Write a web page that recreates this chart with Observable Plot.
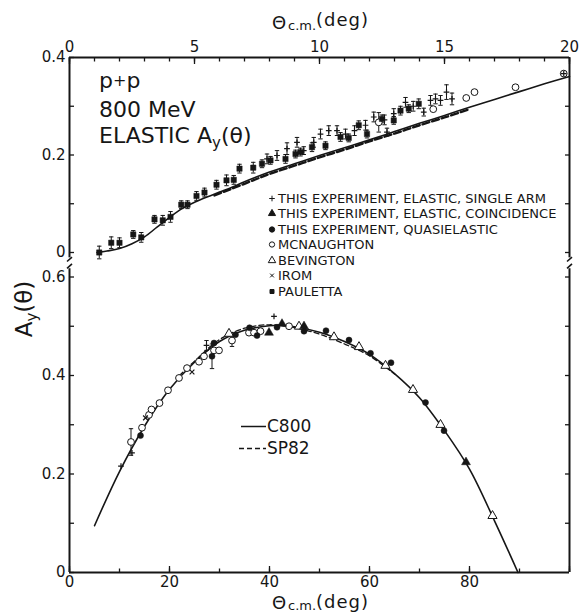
<!DOCTYPE html>
<html>
<head>
<meta charset="utf-8">
<script src="https://cdn.jsdelivr.net/npm/d3@7"></script>
<script src="https://cdn.jsdelivr.net/npm/@observablehq/plot@0.6"></script>
<style>
html,body{margin:0;padding:0;background:#fff;}
#wrap{position:relative;width:581px;height:613px;overflow:hidden;font-family:"DejaVu Sans",sans-serif;color:#161616;}
.abs{position:absolute;white-space:nowrap;line-height:1;}
#wrap svg{display:block;}
</style>
</head>
<body>
<div id="wrap">
  <div id="topPanel" class="abs" style="left:0;top:0;"></div>
  <div id="botPanel" class="abs" style="left:0;top:263px;"></div>

  <!-- axis titles -->
  <div class="abs" style="left:272px;top:14px;font-size:18px;">Θ</div>
  <div class="abs" style="left:288px;top:19px;font-size:13px;">c.m.</div>
  <div class="abs" style="left:316px;top:11px;font-size:18px;letter-spacing:1px;">(deg)</div>

  <div class="abs" style="left:272px;top:594px;font-size:18px;">Θ</div>
  <div class="abs" style="left:288px;top:599px;font-size:13px;">c.m.</div>
  <div class="abs" style="left:316px;top:593px;font-size:18px;letter-spacing:1px;">(deg)</div>

  <div class="abs" style="left:24px;top:309px;font-size:23px;transform:translate(-50%,-50%) rotate(-90deg);">A<span style="position:relative;top:5px;font-size:15px;">y</span>(θ)</div>

  <!-- annotation -->
  <div class="abs" style="left:99px;top:70px;font-size:22px;">p<span style="font-size:16px;position:relative;top:-2px;">+</span>p</div>
  <div class="abs" style="left:99px;top:99px;font-size:22px;">800 MeV</div>
  <div class="abs" style="left:99px;top:125px;font-size:22px;">ELASTIC A<span style="position:relative;top:5px;font-size:15px;">y</span>(θ)</div>
</div>
<script>
// ---------------- DATA ----------------
// Top panel: θc.m. 0–20 deg
const topCurveTheta = [1.1,1.5,2,2.5,3,3.5,4,4.5,5,5.5,6,6.5,7,8,9,10,11,12,13,14,15,16,17,18,19,20];
const topC800 = [0,0.003,0.008,0.018,0.032,0.052,0.072,0.09,0.103,0.114,0.124,0.134,0.145,0.165,0.182,0.199,0.215,0.231,0.248,0.265,0.281,0.298,0.314,0.330,0.346,0.361];
const topSP82Theta = [5.8,7,8,9,10,11,12,13,14,15,16];
const topSP82 = [0.117,0.141,0.161,0.178,0.195,0.211,0.228,0.244,0.261,0.277,0.294];

const topPaulettaTheta = [1.19,1.67,2.0,2.55,2.87,3.4,3.73,4.04,4.47,4.72,5.08,5.4,5.88,6.28,6.57,6.8,7.35,7.7,8.04,8.64,9.04,9.24,9.7,10.24,10.84,11.17,11.57,11.9,12.5,12.97,13.24,13.57,13.97];
const topPaulettaAy = [0.0,0.02,0.02,0.037,0.031,0.068,0.066,0.073,0.098,0.098,0.116,0.123,0.139,0.148,0.149,0.172,0.174,0.182,0.189,0.192,0.202,0.206,0.216,0.219,0.237,0.235,0.261,0.243,0.274,0.271,0.291,0.295,0.305];
const topPaulettaErr = [0.013,0.012,0.01,0.008,0.01,0.008,0.01,0.011,0.008,0.008,0.009,0.009,0.009,0.011,0.009,0.009,0.011,0.008,0.008,0.009,0.008,0.008,0.009,0.008,0.009,0.008,0.009,0.008,0.008,0.008,0.009,0.008,0.01];

const topSingleTheta = [7.9,8.3,8.7,9.1,9.37,9.77,10.04,10.37,10.7,11.04,11.4,11.84,12.17,12.6,12.7,12.97,13.44,13.75,14.17,14.44,14.64,14.84,15.08,15.3,19.77];
const topSingleAy = [0.192,0.199,0.213,0.226,0.209,0.226,0.243,0.25,0.25,0.243,0.25,0.261,0.278,0.272,0.247,0.285,0.308,0.3,0.288,0.312,0.315,0.312,0.329,0.315,0.367];
const topSingleErr = [0.01,0.01,0.012,0.01,0.008,0.01,0.01,0.01,0.01,0.01,0.01,0.01,0.01,0.01,0.008,0.01,0.01,0.01,0.008,0.01,0.01,0.01,0.015,0.012,0];

const topMcnTheta = [12.37,14.55,15.87,16.2,17.84,19.77];
const topMcnAy = [0.267,0.294,0.317,0.329,0.339,0.367];
const topMcnErr = [0.02,0,0,0,0,0];

// Bottom panel: θc.m. 0–100 deg
const botCurveTheta = [5,10,15,20,25,30,35,40,42,45,50,55,60,65,70,75,80,85,89.7];
const botC800 = [0.095,0.205,0.297,0.372,0.427,0.469,0.492,0.501,0.502,0.499,0.488,0.469,0.443,0.404,0.355,0.288,0.21,0.105,0];
const botSP82Theta = [22,25,30,35,40,45,50,55,60,65];
const botSP82 = [0.400,0.429,0.473,0.496,0.503,0.497,0.484,0.464,0.440,0.403];

const botSingleTheta = [10.3,12.5,27.4,40.9];
const botSingleAy = [0.216,0.243,0.461,0.52];
const botSingleErr = [0,0,0.01,0];

const botCoincTheta = [39.9,42.5,46.9,79.3];
const botCoincAy = [0.487,0.505,0.5,0.224];

const botQuasiTheta = [14.2,28.5,28.9,33.2,36,37.5,41.5,46.9,51.3,55.9,60.2,64.3,71.2,74.9];
const botQuasiAy = [0.278,0.439,0.466,0.483,0.497,0.481,0.498,0.49,0.491,0.472,0.445,0.426,0.345,0.288];
const botQuasiErr = [0,0.025,0,0,0,0,0,0,0,0,0,0,0,0];

const botMcnTheta = [12.3,14.5,15.9,16.4,18.0,19.7,21.9,23.5,25.9,26.9,28.9,29.9,32.5,35.9,36.9,38.2,43.9];
const botMcnAy = [0.265,0.294,0.32,0.331,0.344,0.37,0.395,0.415,0.428,0.439,0.451,0.451,0.471,0.487,0.487,0.49,0.5];
const botMcnErr = [0.027,0,0,0,0,0,0,0,0,0,0,0,0.012,0,0,0,0];

const botBevTheta = [31.9,45.9,52.9,57.9,63.2,68.7,74.2,84.6];
const botBevAy = [0.485,0.4995,0.478,0.458,0.42,0.371,0.3,0.115];

const botIromTheta = [15.2,24.5];
const botIromAy = [0.314,0.407];

// ticks
const topXMinor = [0,1,2,3,4,5,6,7,8,9,10,11,12,13,14,15,16,17,18,19,20];
const topXMajor = [0,5,10,15,20];
const topYTicks = [0,0.1,0.2,0.3,0.4];
const topYLabels = [0,0.2,0.4];
const topYRight = [0,0.1,0.2,0.3];
const botXMinor = [0,10,20,30,40,50,60,70,80,90,100];
const botXMajor = [0,20,40,60,80,100];
const botXLabels = [0,20,40,60,80];
const botYTicks = [0,0.1,0.2,0.3,0.4,0.5,0.6];
const botYLabels = [0,0.2,0.4,0.6];
const botYRight = [0.1,0.2,0.3,0.4,0.5,0.6];

const legendLabels = ["THIS EXPERIMENT, ELASTIC, SINGLE ARM","THIS EXPERIMENT, ELASTIC, COINCIDENCE","THIS EXPERIMENT, QUASIELASTIC","MCNAUGHTON","BEVINGTON","IROM","PAULETTA"];
const legendKinds = ["plus","triFill","dotFill","dotOpen","triOpen","times","square"];
const curveLabels = ["C800","SP82"];

// ---------------- HELPERS ----------------
const ink = "#161616";
const zip = (t, a, e) => t.map((x, i) => ({t: x, a: a[i], e: e ? e[i] : 0}));
const hline = {draw(ctx, size) { const r = Math.sqrt(size / Math.PI); ctx.moveTo(-r, 0); ctx.lineTo(r, 0); }};
const fmtY = d => d === 0 ? "0" : d.toFixed(1);

function errorBars(data) {
  const withErr = data.filter(d => d.e > 0);
  const caps = withErr.flatMap(d => [{t: d.t, a: d.a - d.e}, {t: d.t, a: d.a + d.e}]);
  return [
    Plot.ruleX(withErr, {x: "t", y1: d => d.a - d.e, y2: d => d.a + d.e, stroke: ink, strokeWidth: 1}),
    Plot.dot(caps, {x: "t", y: "a", symbol: hline, r: 2.2, fill: "none", stroke: ink, strokeWidth: 1})
  ];
}
const styles = {
  plus:    {symbol: "plus", r: 2, fill: "none", stroke: ink, strokeWidth: 1.2},
  triFill: {symbol: "triangle", r: 3.3, fill: ink, stroke: ink, strokeWidth: 0.5},
  dotFill: {symbol: "circle", r: 3, fill: ink, stroke: ink, strokeWidth: 0.5},
  dotOpen: {symbol: "circle", r: 3.4, fill: "white", stroke: ink, strokeWidth: 1},
  triOpen: {symbol: "triangle", r: 3.4, fill: "white", stroke: ink, strokeWidth: 1},
  times:   {symbol: "times", r: 2.3, fill: "none", stroke: ink, strokeWidth: 1.2},
  square:  {symbol: "square", r: 3, fill: ink, stroke: ink, strokeWidth: 0.5}
};
const pts = (data, kind) => Plot.dot(data, {x: "t", y: "a", ...styles[kind]});

function axesFor(o) {
  const common = {label: null, strokeWidth: 1.3, stroke: ink};
  const text = {label: null, stroke: "none", fill: ink, fontSize: 15};
  const top = o.xAnchor === "top";
  return [
    Plot.axisX(o.xMinor, {anchor: o.xAnchor, tickSize: 3.5, dy: top ? 3.5 : -3.5, fill: "none", ...common}),
    Plot.axisX(o.xMajor, {anchor: o.xAnchor, tickSize: 6, dy: top ? 6 : -6, fill: "none", ...common}),
    Plot.axisX(o.xLabels, {anchor: o.xAnchor, tickSize: 0, tickPadding: top ? 6 : 4, tickFormat: d => String(d), ...text}),
    Plot.axisY(o.yTicks, {anchor: "left", tickSize: 5, dx: 5, fill: "none", ...common}),
    Plot.axisY(o.yLabels, {anchor: "left", tickSize: 0, tickPadding: 4, tickFormat: fmtY, ...text}),
    Plot.axisY(o.yRight, {anchor: "right", tickSize: 5, dx: -5, fill: "none", ...common})
  ];
}

// ---------------- TOP PANEL ----------------
const topPauletta = zip(topPaulettaTheta, topPaulettaAy, topPaulettaErr);
const topSingle = zip(topSingleTheta, topSingleAy, topSingleErr);
const topMcn = zip(topMcnTheta, topMcnAy, topMcnErr);
const topFrameBreak = -0.011;

const topPlot = Plot.plot({
  width: 581, height: 263,
  marginLeft: 69, marginRight: 12, marginTop: 57, marginBottom: 1.25,
  x: {domain: [0, 20], axis: null},
  y: {domain: [-0.02, 0.4], axis: null},
  style: {fontFamily: "DejaVu Sans, sans-serif", fontSize: "15px", color: ink, background: "transparent", overflow: "visible"},
  marks: [
    Plot.ruleY([0.4], {stroke: ink, strokeWidth: 2}),
    Plot.ruleX([0, 20], {y1: topFrameBreak, y2: 0.4, stroke: ink, strokeWidth: 2}),
    Plot.link([0, 20], {x1: d => d - 0.1, x2: d => d + 0.1, y1: -0.0185, y2: -0.0095, stroke: ink, strokeWidth: 1.6}),
    ...axesFor({xAnchor: "top", xMinor: topXMinor, xMajor: topXMajor, xLabels: topXMajor, yTicks: topYTicks, yLabels: topYLabels, yRight: topYRight}),
    Plot.line(zip(topSP82Theta, topSP82), {x: "t", y: "a", curve: "catmull-rom", stroke: ink, strokeWidth: 2.4, strokeDasharray: "7,3"}),
    Plot.line(zip(topCurveTheta, topC800), {x: "t", y: "a", curve: "catmull-rom", stroke: ink, strokeWidth: 1.6}),
    ...errorBars(topPauletta),
    ...errorBars(topSingle),
    ...errorBars(topMcn),
    pts(topMcn, "dotOpen"),
    pts(topPauletta, "square"),
    pts(topSingle, "plus")
  ]
});
document.getElementById("topPanel").appendChild(topPlot);

// ---------------- BOTTOM PANEL ----------------
const botSingle = zip(botSingleTheta, botSingleAy, botSingleErr);
const botQuasi = zip(botQuasiTheta, botQuasiAy, botQuasiErr);
const botMcn = zip(botMcnTheta, botMcnAy, botMcnErr);
const botFrameBreak = 0.617;

const botPlot = Plot.plot({
  width: 581, height: 350,
  marginLeft: 69, marginRight: 12, marginTop: 0.7, marginBottom: 41,
  x: {domain: [0, 100], axis: null},
  y: {domain: [0, 0.626], axis: null},
  style: {fontFamily: "DejaVu Sans, sans-serif", fontSize: "15px", color: ink, background: "transparent", overflow: "visible"},
  marks: [
    Plot.ruleY([0], {stroke: ink, strokeWidth: 2}),
    Plot.ruleX([0, 100], {y1: 0, y2: botFrameBreak, stroke: ink, strokeWidth: 2}),
    Plot.link([0, 100], {x1: d => d - 0.5, x2: d => d + 0.5, y1: 0.6175, y2: 0.6265, stroke: ink, strokeWidth: 1.6}),
    ...axesFor({xAnchor: "bottom", xMinor: botXMinor, xMajor: botXMajor, xLabels: botXLabels, yTicks: botYTicks, yLabels: botYLabels, yRight: botYRight}),
    Plot.line(zip(botSP82Theta, botSP82), {x: "t", y: "a", curve: "catmull-rom", stroke: ink, strokeWidth: 1.3, strokeDasharray: "5,3"}),
    Plot.line(zip(botCurveTheta, botC800), {x: "t", y: "a", curve: "catmull-rom", stroke: ink, strokeWidth: 1.6}),
    ...errorBars(botSingle),
    ...errorBars(botQuasi),
    ...errorBars(botMcn),
    pts(botMcn, "dotOpen"),
    pts(zip(botBevTheta, botBevAy), "triOpen"),
    pts(zip(botIromTheta, botIromAy), "times"),
    pts(botQuasi, "dotFill"),
    pts(zip(botCoincTheta, botCoincAy), "triFill"),
    pts(botSingle, "plus")
  ]
});
document.getElementById("botPanel").appendChild(botPlot);

// ---------------- LEGENDS ----------------
const wrap = d3.select("#wrap");
const symMap = {
  plus: [d3.symbolPlus, 12, "none", ink], triFill: [d3.symbolTriangle, 22, ink, ink], dotFill: [d3.symbolCircle, 22, ink, ink],
  dotOpen: [d3.symbolCircle, 22, "white", ink], triOpen: [d3.symbolTriangle, 24, "white", ink], times: [d3.symbolTimes, 11, "none", ink],
  square: [d3.symbolSquare, 16, ink, ink]
};
legendLabels.forEach((lab, i) => {
  const row = wrap.append("div").attr("class", "abs")
    .style("left", "266px").style("top", (190.5 + 15.5 * i) + "px").style("height", "15px").style("width", "310px");
  const svg = row.append("svg").attr("width", 12).attr("height", 15).style("position", "absolute").style("left", "0px").style("top", "0px");
  const [type, size, fill, stroke] = symMap[legendKinds[i]];
  svg.append("path").attr("d", d3.symbol(type, size)()).attr("transform", "translate(6,7.5)")
    .attr("fill", fill).attr("stroke", stroke).attr("stroke-width", 1);
  row.append("span").text(lab).style("position", "absolute").style("left", "12px").style("top", "0px")
    .style("font-size", "13px").style("line-height", "15px");
});
curveLabels.forEach((lab, i) => {
  const row = wrap.append("div").attr("class", "abs")
    .style("left", "238px").style("top", (418.5 + 22 * i) + "px").style("height", "15px").style("width", "100px");
  const svg = row.append("svg").attr("width", 29).attr("height", 15).style("position", "absolute").style("left", "0px").style("top", "0px");
  svg.append("line").attr("x1", i ? 1 : 3).attr("x2", 28).attr("y1", 7.5).attr("y2", 7.5)
    .attr("stroke", ink).attr("stroke-width", 1.5).attr("stroke-dasharray", i ? "5,3" : null);
  row.append("span").text(lab).style("position", "absolute").style("left", "29px").style("top", "0px")
    .style("font-size", "17px").style("line-height", "15px");
});
</script>
</body>
</html>
